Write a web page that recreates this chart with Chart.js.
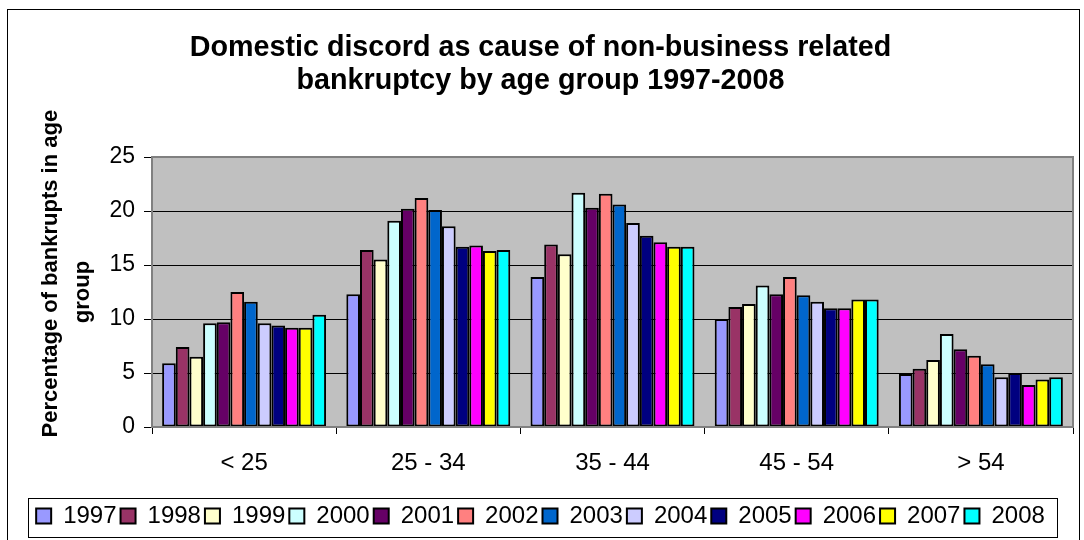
<!DOCTYPE html>
<html>
<head>
<meta charset="utf-8">
<script src="https://cdn.jsdelivr.net/npm/chart.js@4/dist/chart.umd.min.js"></script>
<style>
  html, body { margin: 0; padding: 0; background: #fff; }
  #wrap { width: 1084px; height: 540px; }
</style>
</head>
<body>
<div id="wrap"><canvas id="chart"></canvas></div>
<script>
var ageGroups = ["< 25", "25 - 34", "35 - 44", "45 - 54", "> 54"];
var years = ["1997", "1998", "1999", "2000", "2001", "2002", "2003", "2004", "2005", "2006", "2007", "2008"];

// percentage of bankrupts in age group, one array per year
var y1997 = [5.9, 12.3, 13.9, 10.0, 4.9];
var y1998 = [7.4, 16.4, 16.9, 11.1, 5.4];
var y1999 = [6.5, 15.5, 16.0, 11.4, 6.2];
var y2000 = [9.6, 19.1, 21.7, 13.1, 8.6];
var y2001 = [9.7, 20.2, 20.3, 12.3, 7.2];
var y2002 = [12.5, 21.2, 21.6, 13.9, 6.6];
var y2003 = [11.6, 20.1, 20.6, 12.2, 5.8];
var y2004 = [9.6, 18.6, 18.9, 11.6, 4.6];
var y2005 = [9.4, 16.7, 17.7, 11.0, 5.0];
var y2006 = [9.2, 16.8, 17.1, 11.0, 3.9];
var y2007 = [9.2, 16.3, 16.7, 11.8, 4.4];
var y2008 = [10.4, 16.4, 16.7, 11.8, 4.6];
var yearValues = [y1997, y1998, y1999, y2000, y2001, y2002, y2003, y2004, y2005, y2006, y2007, y2008];

var colors = ["#9999FF", "#993366", "#FFFFCC", "#CCFFFF", "#660066", "#FF8080",
              "#0066CC", "#CCCCFF", "#000080", "#FF00FF", "#FFFF00", "#00FFFF"];

var yTicks = [0, 5, 10, 15, 20, 25];

var FONT = "'Liberation Sans', Arial, sans-serif";

var datasets = years.map(function (yr, i) {
  return {
    label: yr,
    data: yearValues[i],
    backgroundColor: colors[i],
    borderColor: "#000",
    borderWidth: 2,
    borderSkipped: false,
    categoryPercentage: 0.89,
    barPercentage: 1.0
  };
});

// grey plot area, frame round the chart and box round the legend
var decor = {
  id: "decor",
  beforeDraw: function (chart) {
    var c = chart.ctx, a = chart.chartArea;
    c.save();
    c.fillStyle = "#C0C0C0";
    c.fillRect(a.left, a.top, a.right - a.left, a.bottom - a.top);
    c.restore();
  },
  afterDraw: function (chart) {
    var c = chart.ctx, a = chart.chartArea;
    c.save();
    c.strokeStyle = "#808080";
    c.lineWidth = 2;
    c.strokeRect(a.left, a.top, a.right - a.left, a.bottom - a.top);

    c.strokeStyle = "#000";
    c.lineWidth = 1;
    c.strokeRect(7.5, 9.5, 1072, 540);

    var lg = chart.legend;
    if (lg && lg.legendHitBoxes.length) {
      var hb = lg.legendHitBoxes;
      var last = hb[hb.length - 1];
      var x0 = hb[0].left - 8, x1 = last.left + last.width + 12;
      c.strokeRect(Math.round(x0) + 0.5, lg.top - 1.5, Math.round(x1 - x0), lg.height + 1);
    }
    c.restore();
  }
};

var chart = new Chart(document.getElementById("chart"), {
  type: "bar",
  data: { labels: ageGroups, datasets: datasets },
  plugins: [decor],
  options: {
    responsive: true,
    maintainAspectRatio: false,
    animation: false,
    layout: { padding: { left: 8, right: 11, top: 0, bottom: 2 } },
    plugins: {
      title: {
        display: true,
        text: ["Domestic discord as cause of non-business related", "bankruptcy by age group 1997-2008"],
        color: "#000",
        font: { family: FONT, size: 28.7, weight: "bold", lineHeight: 1.15 },
        padding: { top: 32, bottom: 59 }
      },
      legend: {
        position: "bottom",
        labels: {
          color: "#000",
          font: { family: FONT, size: 24 },
          boxWidth: 15,
          boxHeight: 15,
          padding: 4
        }
      },
      tooltip: { enabled: false }
    },
    scales: {
      x: {
        grid: { offset: true, drawOnChartArea: false, color: "#000", tickLength: 7 },
        border: { color: "#000", width: 1 },
        ticks: { color: "#000", font: { family: FONT, size: 24 }, padding: 15 },
        afterFit: function (s) { s.height = 73; }
      },
      y: {
        min: 0,
        max: 25,
        afterBuildTicks: function (s) { s.ticks = yTicks.map(function (v) { return { value: v }; }); },
        grid: { color: "#000", tickLength: 8 },
        border: { color: "#808080", width: 2 },
        ticks: { color: "#000", font: { family: FONT, size: 23 }, padding: 9 },
        title: {
          display: true,
          text: ["      Percentage of bankrupts in age", "group"],
          color: "#000",
          font: { family: FONT, size: 22, weight: "bold", lineHeight: 1.45 },
          padding: { top: 27, bottom: 6 }
        },
        afterFit: function (s) { s.width = 144; }
      }
    }
  }
});
</script>
</body>
</html>
